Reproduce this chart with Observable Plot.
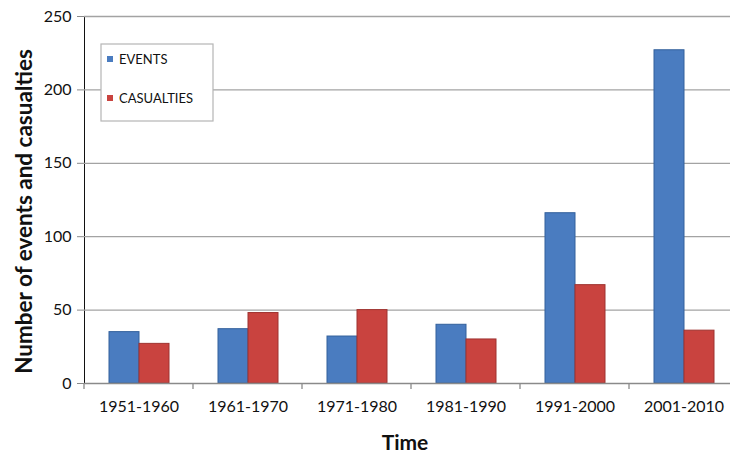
<!DOCTYPE html>
<html>
<head>
<meta charset="utf-8">
<script src="https://cdn.jsdelivr.net/npm/d3@7"></script>
<script src="https://cdn.jsdelivr.net/npm/@observablehq/plot@0.6"></script>
<style>
  body { margin: 0; background: #fff; overflow: hidden; }
  #chart { position: relative; width: 730px; height: 454px; overflow: hidden; }
</style>
</head>
<body>
<div id="chart"></div>
<script>
// Decades and the two counted series
const periods = ["1951-1960", "1961-1970", "1971-1980", "1981-1990", "1991-2000", "2001-2010"];
const series = ["EVENTS", "CASUALTIES"];
const events = [35, 37, 32, 40, 116, 227];
const casualties = [27, 48, 50, 30, 67, 36];
const yTicks = [0, 50, 100, 150, 200, 250];
const seriesFill = ["#4a7cc0", "#c9433f"];
const seriesEdge = ["#33609c", "#9e3330"];

const rows = periods.flatMap((p, i) => [
  {period: p, series: series[0], value: events[i]},
  {period: p, series: series[1], value: casualties[i]}
]);
const edgeOf = Object.fromEntries(series.map((s, i) => [s, seriesEdge[i]]));

const plot = Plot.plot({
  width: 730,
  height: 454,
  marginTop: 16,
  marginBottom: 71,
  marginLeft: 81,
  marginRight: 0,
  style: {fontFamily: "Lato, sans-serif", fontSize: "16px", background: "#fff", color: "#111"},
  fx: {domain: periods, range: [81, 740], paddingInner: 0, paddingOuter: 0, tickSize: 0, tickPadding: 17, label: null},
  x: {domain: series, axis: null, paddingInner: 0, paddingOuter: 0.77},
  y: {domain: [0, 250], ticks: yTicks, tickSize: 7, tickPadding: 6, label: null, line: true},
  color: {domain: series, range: seriesFill},
  marks: [
    Plot.ruleY(yTicks.slice(1), {stroke: "#a3a3a3", strokeWidth: 1.3}),
    Plot.barY(rows, {fx: "period", x: "series", y: "value", fill: "series", stroke: d => edgeOf[d.series], strokeWidth: 1}),
    Plot.ruleY([0], {stroke: "#8a8a8a", strokeWidth: 1.3})
  ]
});

document.getElementById("chart").appendChild(plot);

const svg = d3.select(plot);
// axis lines and tick marks in grey
svg.selectAll("[aria-label='y-axis tick'] path, [aria-label='y-axis tick'], [aria-label='y-axis line']")
  .attr("stroke", "#8a8a8a");

const fx = plot.scale("fx");
const y = plot.scale("y");
const y0 = y.apply(0);
const bounds = periods.map(p => fx.apply(p)).concat([fx.apply(periods[periods.length - 1]) + fx.step]);
svg.append("g")
  .selectAll("line")
  .data(bounds)
  .join("line")
  .attr("x1", d => d).attr("x2", d => d)
  .attr("y1", y0).attr("y2", y0 + 6)
  .attr("stroke", "#8a8a8a").attr("stroke-width", 1.3);

// axis titles
svg.append("text")
  .attr("transform", `translate(32,${(y.apply(0) + y.apply(250)) / 2 + 12}) rotate(-90)`)
  .attr("text-anchor", "middle")
  .attr("font-family", "Lato, sans-serif")
  .attr("font-weight", "bold")
  .attr("font-size", 22.5)
  .attr("fill", "#111")
  .text("Number of events and casualties");

svg.append("text")
  .attr("x", 405).attr("y", 450)
  .attr("text-anchor", "middle")
  .attr("font-family", "Lato, sans-serif")
  .attr("font-weight", "bold")
  .attr("font-size", 21)
  .attr("fill", "#111")
  .text("Time");

// legend box inside the plot area
const color = plot.scale("color");
const legend = svg.append("g").attr("transform", "translate(101,44)");
legend.append("rect")
  .attr("width", 112).attr("height", 77)
  .attr("fill", "#fff").attr("stroke", "#b5b5b5").attr("stroke-width", 1.2);
const entry = legend.selectAll("g.entry")
  .data(color.domain)
  .join("g")
  .attr("class", "entry")
  .attr("transform", (d, i) => `translate(6,${15 + i * 39})`);
entry.append("rect")
  .attr("width", 6).attr("height", 6).attr("y", -3)
  .attr("fill", d => color.apply(d));
entry.append("text")
  .attr("x", 12).attr("dy", "0.35em")
  .attr("text-anchor", "start")
  .attr("font-family", "Lato, sans-serif")
  .attr("font-size", 13)
  .attr("fill", "#111")
  .text(d => d);
</script>
</body>
</html>
